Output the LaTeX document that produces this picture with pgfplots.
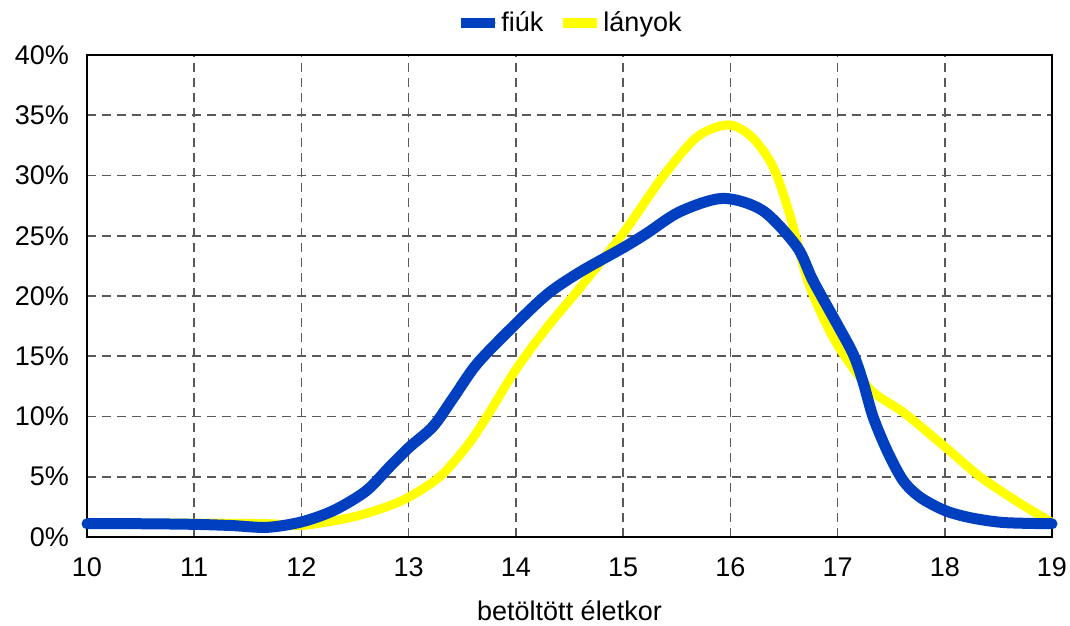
\documentclass[border=0pt]{standalone}
\usepackage{pgfplots}
\pgfplotsset{compat=1.18}
\usepackage{fontspec}
\setmainfont{Liberation Sans}
\definecolor{fiukblue}{RGB}{0,64,192}
\definecolor{lanyyellow}{RGB}{255,255,0}
\newcommand{\chartfont}{\fontsize{13.5bp}{16bp}\selectfont}
\begin{document}
\begin{tikzpicture}
\begin{axis}[
  scale only axis,
  width=482.5bp,
  height=241bp,
  xmin=10, xmax=19,
  ymin=0, ymax=40,
  xtick={10,11,...,19},
  ytick={0,5,...,40},
  yticklabel={\pgfmathprintnumber{\tick}\%},
  /pgf/number format/assume math mode=true,
  major tick length=0pt,
  tick label style={font=\chartfont},
  xticklabel style={yshift=-7bp},
  yticklabel style={xshift=-5.5bp},
  xlabel={betöltött életkor},
  xlabel style={font=\chartfont, yshift=-5bp},
  grid=major,
  major grid style={black!65, line width=0.8bp, dash pattern=on 4.5bp off 3bp},
  axis line style={black, line width=1bp},
  legend columns=2,
  legend style={at={(0.5,1)}, anchor=center, yshift=16bp, draw=none, fill=none,
    font=\chartfont, nodes={inner sep=0.5bp},
    /tikz/every even column/.append style={column sep=7bp}},
  legend image code/.code={
    \path (0bp,0bp) -- (17bp,0bp);
    \draw[#1, line cap=round] (2.5bp,0bp) -- (14.5bp,0bp);
  },
  clip=false,
]
\addlegendimage{fiukblue, line width=5bp}
\addlegendentry{fiúk}
\addlegendimage{lanyyellow, line width=5bp}
\addlegendentry{lányok}

% lányok
\addplot[lanyyellow, line width=4.5bp, line cap=round, smooth, forget plot] coordinates {
  (10,1.1) (11,1.15) (11.7,1.1) (12,0.95) (12.45,1.6) (12.76,2.4) (13,3.3)
  (13.29,5) (13.54,7.5) (13.73,10) (14,13.9) (14.3,17.5) (14.6,20.7)
  (15,25.2) (15.37,29.9) (15.69,33.2) (15.98,34.2) (16.2,33.2) (16.4,30.7)
  (16.56,26.6) (16.71,21.6) (16.86,18.3) (17.03,15.5) (17.31,12.2)
  (17.62,10.3) (18,7.5) (18.33,5) (18.7,2.8) (19,1.2)
};
% fiúk
\addplot[fiukblue, line width=5.5bp, line cap=round, smooth, forget plot] coordinates {
  (10,1.1) (10.5,1.1) (11,1.05) (11.35,0.95) (11.68,0.8) (12,1.25)
  (12.3,2.2) (12.6,3.8) (12.82,5.8) (13,7.4) (13.23,9.2) (13.42,11.6)
  (13.64,14.4) (14,17.7) (14.3,20.2) (14.6,22) (15,24) (15.22,25.2)
  (15.53,27) (15.93,28.1) (16.3,27.1) (16.62,24.1) (16.77,21.3) (17,17.6)
  (17.15,15.1) (17.24,12.8) (17.33,10) (17.46,7.2) (17.61,4.7) (17.77,3.3)
  (18,2.2) (18.24,1.6) (18.55,1.2) (19,1.1)
};
\end{axis}
\pgfresetboundingbox
\path (-43.5bp,-44.5bp) rectangle (491.5bp,268.5bp);
\end{tikzpicture}
\end{document}
